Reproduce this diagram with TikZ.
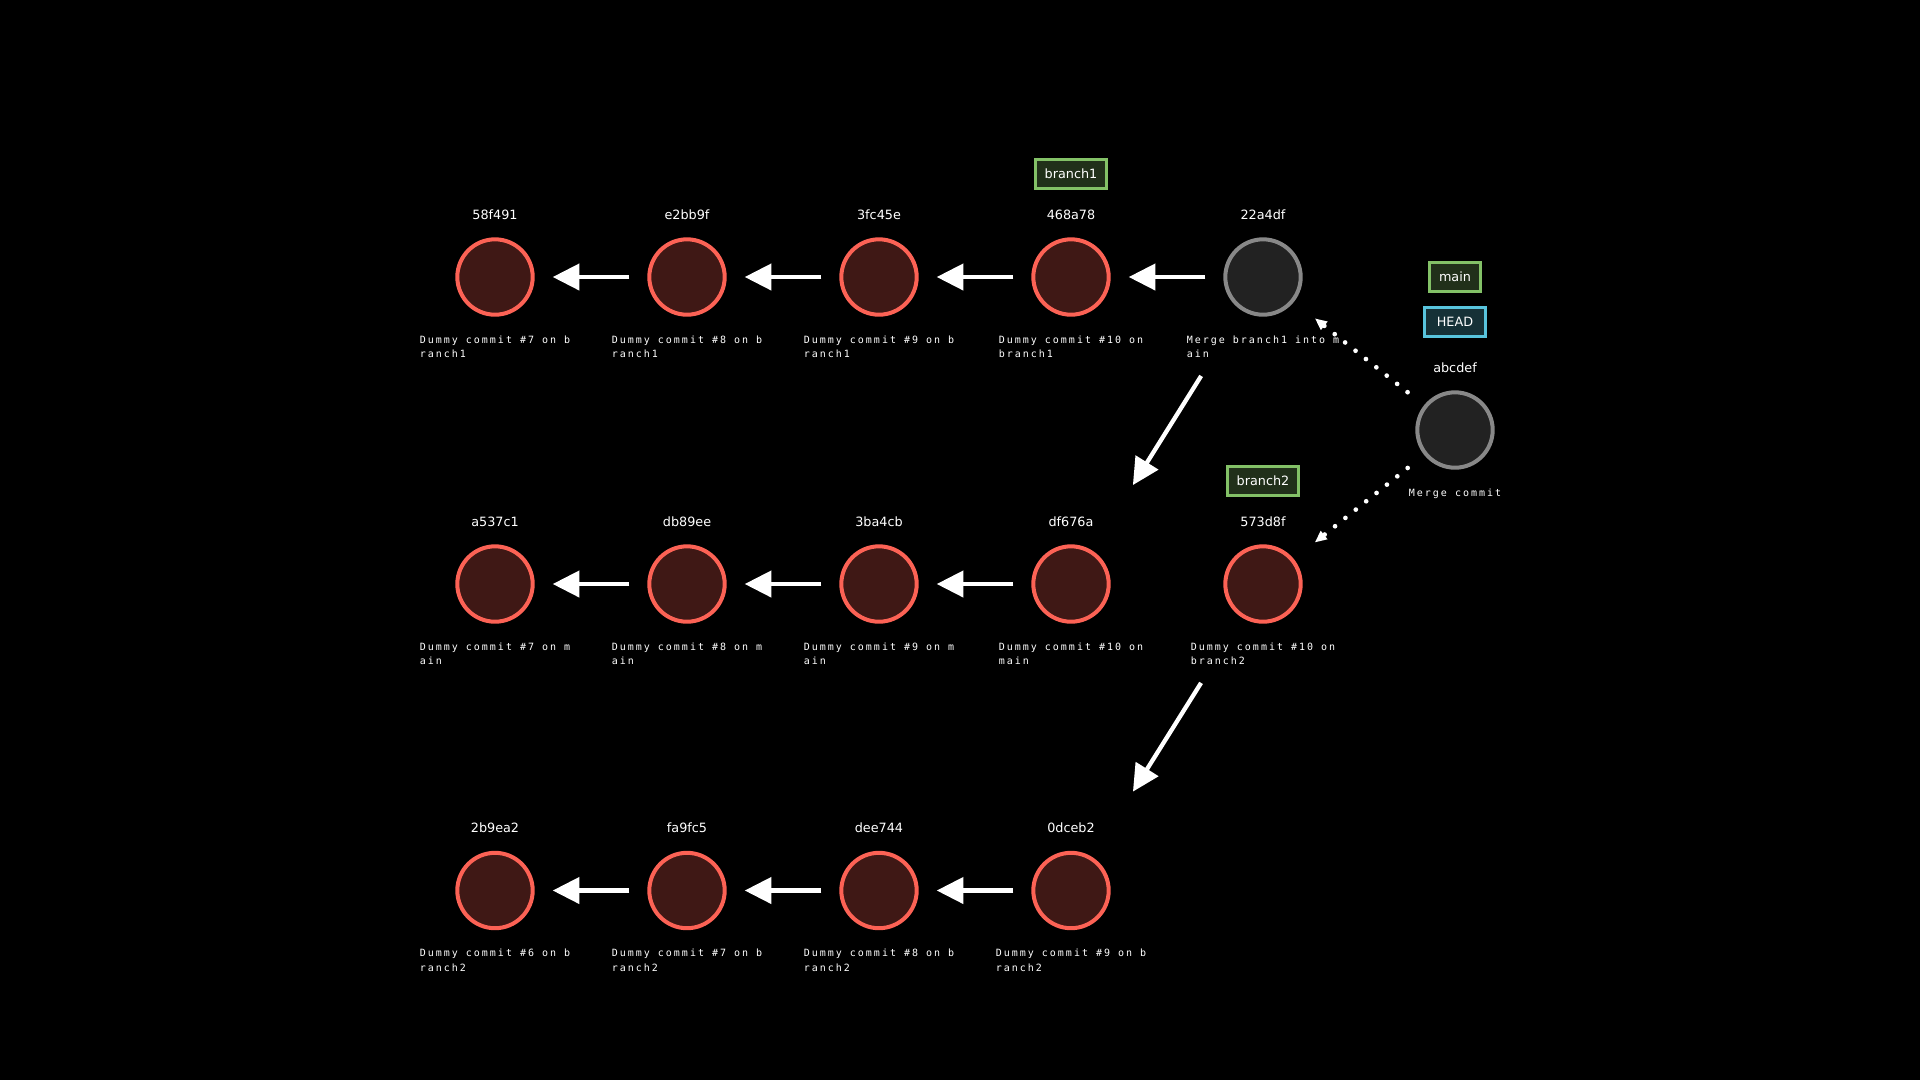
\documentclass[tikz,border=0pt]{standalone}
\usepackage{fontspec}
\usepackage{tikz}
\usetikzlibrary{arrows.meta,positioning}

\newfontfamily\msgfont[LetterSpace=20]{DejaVu Sans Mono}
\newfontfamily\hashfont{DejaVu Sans}

\definecolor{commitred}{HTML}{FC6255}
\definecolor{commitfill}{HTML}{3F1815}
\definecolor{mergegray}{HTML}{888888}
\definecolor{mergefill}{HTML}{222222}
\definecolor{taggreen}{HTML}{83C167}
\definecolor{tagfill}{HTML}{21301A}
\definecolor{headblue}{HTML}{58C4DD}
\definecolor{headfill}{HTML}{163137}

\tikzset{
  commit/.style={circle,draw=commitred,fill=commitfill,line width=2.28pt,minimum size=1.508cm,inner sep=0pt},
  mergecommit/.style={commit,draw=mergegray,fill=mergefill},
  hashlbl/.style={text=white,inner sep=0pt,font=\hashfont\fontsize{7.28}{8.7}\selectfont},
  msglbl/.style={text=white,inner sep=0pt,align=left,font=\msgfont\fontsize{5.69}{8.19}\selectfont},
  reftag/.style={draw=taggreen,fill=tagfill,line width=1.7pt,text=white,minimum height=0.588cm,inner xsep=0.184cm,inner ysep=0pt,font=\hashfont\fontsize{7.28}{8.7}\selectfont},
  headtag/.style={reftag,draw=headblue,fill=headfill,minimum width=1.21cm},
  parentarrow/.style={white,line width=2.45pt,-{Triangle[length=15.2pt,width=14.8pt]},shorten <=0.36cm,shorten >=0.36cm},
  rowarrow/.style={parentarrow,shorten <=1.54cm,shorten >=1.54cm},
  mergearrow/.style={white,line width=2.67pt,line cap=round,dash pattern=on 0pt off 7.57pt,-{Triangle[length=6.8pt,width=5.7pt]},shorten <=0.42cm,shorten >=0.534cm},
}

\begin{document}
\begin{tikzpicture}[x=0.02cm,y=-0.02cm]
\fill[black] (0,0) rectangle (1920,1080);

% branch1 row
\node[commit] (c58f491) at (495,277) {};
\node[commit] (ce2bb9f) at (687,277) {};
\node[commit] (c3fc45e) at (879,277) {};
\node[commit] (c468a78) at (1071,277) {};
\node[mergecommit] (c22a4df) at (1263,277) {};
\node[hashlbl,above=0.346cm of c58f491] (h58f491) {58f491};
\node[hashlbl,above=0.346cm of ce2bb9f] (he2bb9f) {e2bb9f};
\node[hashlbl,above=0.346cm of c3fc45e] (h3fc45e) {3fc45e};
\node[hashlbl,above=0.346cm of c468a78] (h468a78) {468a78};
\node[hashlbl,above=0.346cm of c22a4df] (h22a4df) {22a4df};
\node[msglbl,below=0.37cm of c58f491] (m58f491) {Dummy commit \#7 on b\\ranch1};
\node[msglbl,below=0.37cm of ce2bb9f] (me2bb9f) {Dummy commit \#8 on b\\ranch1};
\node[msglbl,below=0.37cm of c3fc45e] (m3fc45e) {Dummy commit \#9 on b\\ranch1};
\node[msglbl,below=0.37cm of c468a78] (m468a78) {Dummy commit \#10 on\\branch1};
\node[msglbl,below=0.37cm of c22a4df] (m22a4df) {Merge branch1 into m\\ain};
\node[reftag,above=0.386cm of h468a78] (tbranch1) {branch1};

% main row
\node[commit] (ca537c1) at (495,584) {};
\node[commit] (cdb89ee) at (687,584) {};
\node[commit] (c3ba4cb) at (879,584) {};
\node[commit] (cdf676a) at (1071,584) {};
\node[commit] (c573d8f) at (1263,584) {};
\node[hashlbl,above=0.346cm of ca537c1] (ha537c1) {a537c1};
\node[hashlbl,above=0.346cm of cdb89ee] (hdb89ee) {db89ee};
\node[hashlbl,above=0.346cm of c3ba4cb] (h3ba4cb) {3ba4cb};
\node[hashlbl,above=0.346cm of cdf676a] (hdf676a) {df676a};
\node[hashlbl,above=0.346cm of c573d8f] (h573d8f) {573d8f};
\node[msglbl,below=0.37cm of ca537c1] (ma537c1) {Dummy commit \#7 on m\\ain};
\node[msglbl,below=0.37cm of cdb89ee] (mdb89ee) {Dummy commit \#8 on m\\ain};
\node[msglbl,below=0.37cm of c3ba4cb] (m3ba4cb) {Dummy commit \#9 on m\\ain};
\node[msglbl,below=0.37cm of cdf676a] (mdf676a) {Dummy commit \#10 on\\main};
\node[msglbl,below=0.37cm of c573d8f] (m573d8f) {Dummy commit \#10 on\\branch2};
\node[reftag,above=0.386cm of h573d8f] (tbranch2) {branch2};

% branch2 row
\node[commit] (c2b9ea2) at (495,890.5) {};
\node[commit] (cfa9fc5) at (687,890.5) {};
\node[commit] (cdee744) at (879,890.5) {};
\node[commit] (c0dceb2) at (1071,890.5) {};
\node[hashlbl,above=0.346cm of c2b9ea2] (h2b9ea2) {2b9ea2};
\node[hashlbl,above=0.346cm of cfa9fc5] (hfa9fc5) {fa9fc5};
\node[hashlbl,above=0.346cm of cdee744] (hdee744) {dee744};
\node[hashlbl,above=0.346cm of c0dceb2] (h0dceb2) {0dceb2};
\node[msglbl,below=0.37cm of c2b9ea2] (m2b9ea2) {Dummy commit \#6 on b\\ranch2};
\node[msglbl,below=0.37cm of cfa9fc5] (mfa9fc5) {Dummy commit \#7 on b\\ranch2};
\node[msglbl,below=0.37cm of cdee744] (mdee744) {Dummy commit \#8 on b\\ranch2};
\node[msglbl,below=0.37cm of c0dceb2] (m0dceb2) {Dummy commit \#9 on b\\ranch2};

% merge commit with main / HEAD
\node[mergecommit] (cabcdef) at (1455,430) {};
\node[hashlbl,above=0.346cm of cabcdef] (habcdef) {abcdef};
\node[msglbl,below=0.37cm of cabcdef] (mabcdef) {Merge commit};
\node[headtag,above=0.48cm of habcdef] (thead) {HEAD};
\node[reftag,above=0.26cm of thead] (tmain) {main};

% parent links
\draw[parentarrow] (ce2bb9f) -- (c58f491);
\draw[parentarrow] (c3fc45e) -- (ce2bb9f);
\draw[parentarrow] (c468a78) -- (c3fc45e);
\draw[parentarrow] (c22a4df) -- (c468a78);
\draw[parentarrow] (cdb89ee) -- (ca537c1);
\draw[parentarrow] (c3ba4cb) -- (cdb89ee);
\draw[parentarrow] (cdf676a) -- (c3ba4cb);
\draw[parentarrow] (cfa9fc5) -- (c2b9ea2);
\draw[parentarrow] (cdee744) -- (cfa9fc5);
\draw[parentarrow] (c0dceb2) -- (cdee744);
\draw[rowarrow] (c22a4df) -- (cdf676a);
\draw[rowarrow] (c573d8f) -- (c0dceb2);

% merge parents
\draw[mergearrow] (cabcdef) -- (c22a4df);
\draw[mergearrow] (cabcdef) -- (c573d8f);
\end{tikzpicture}
\end{document}
